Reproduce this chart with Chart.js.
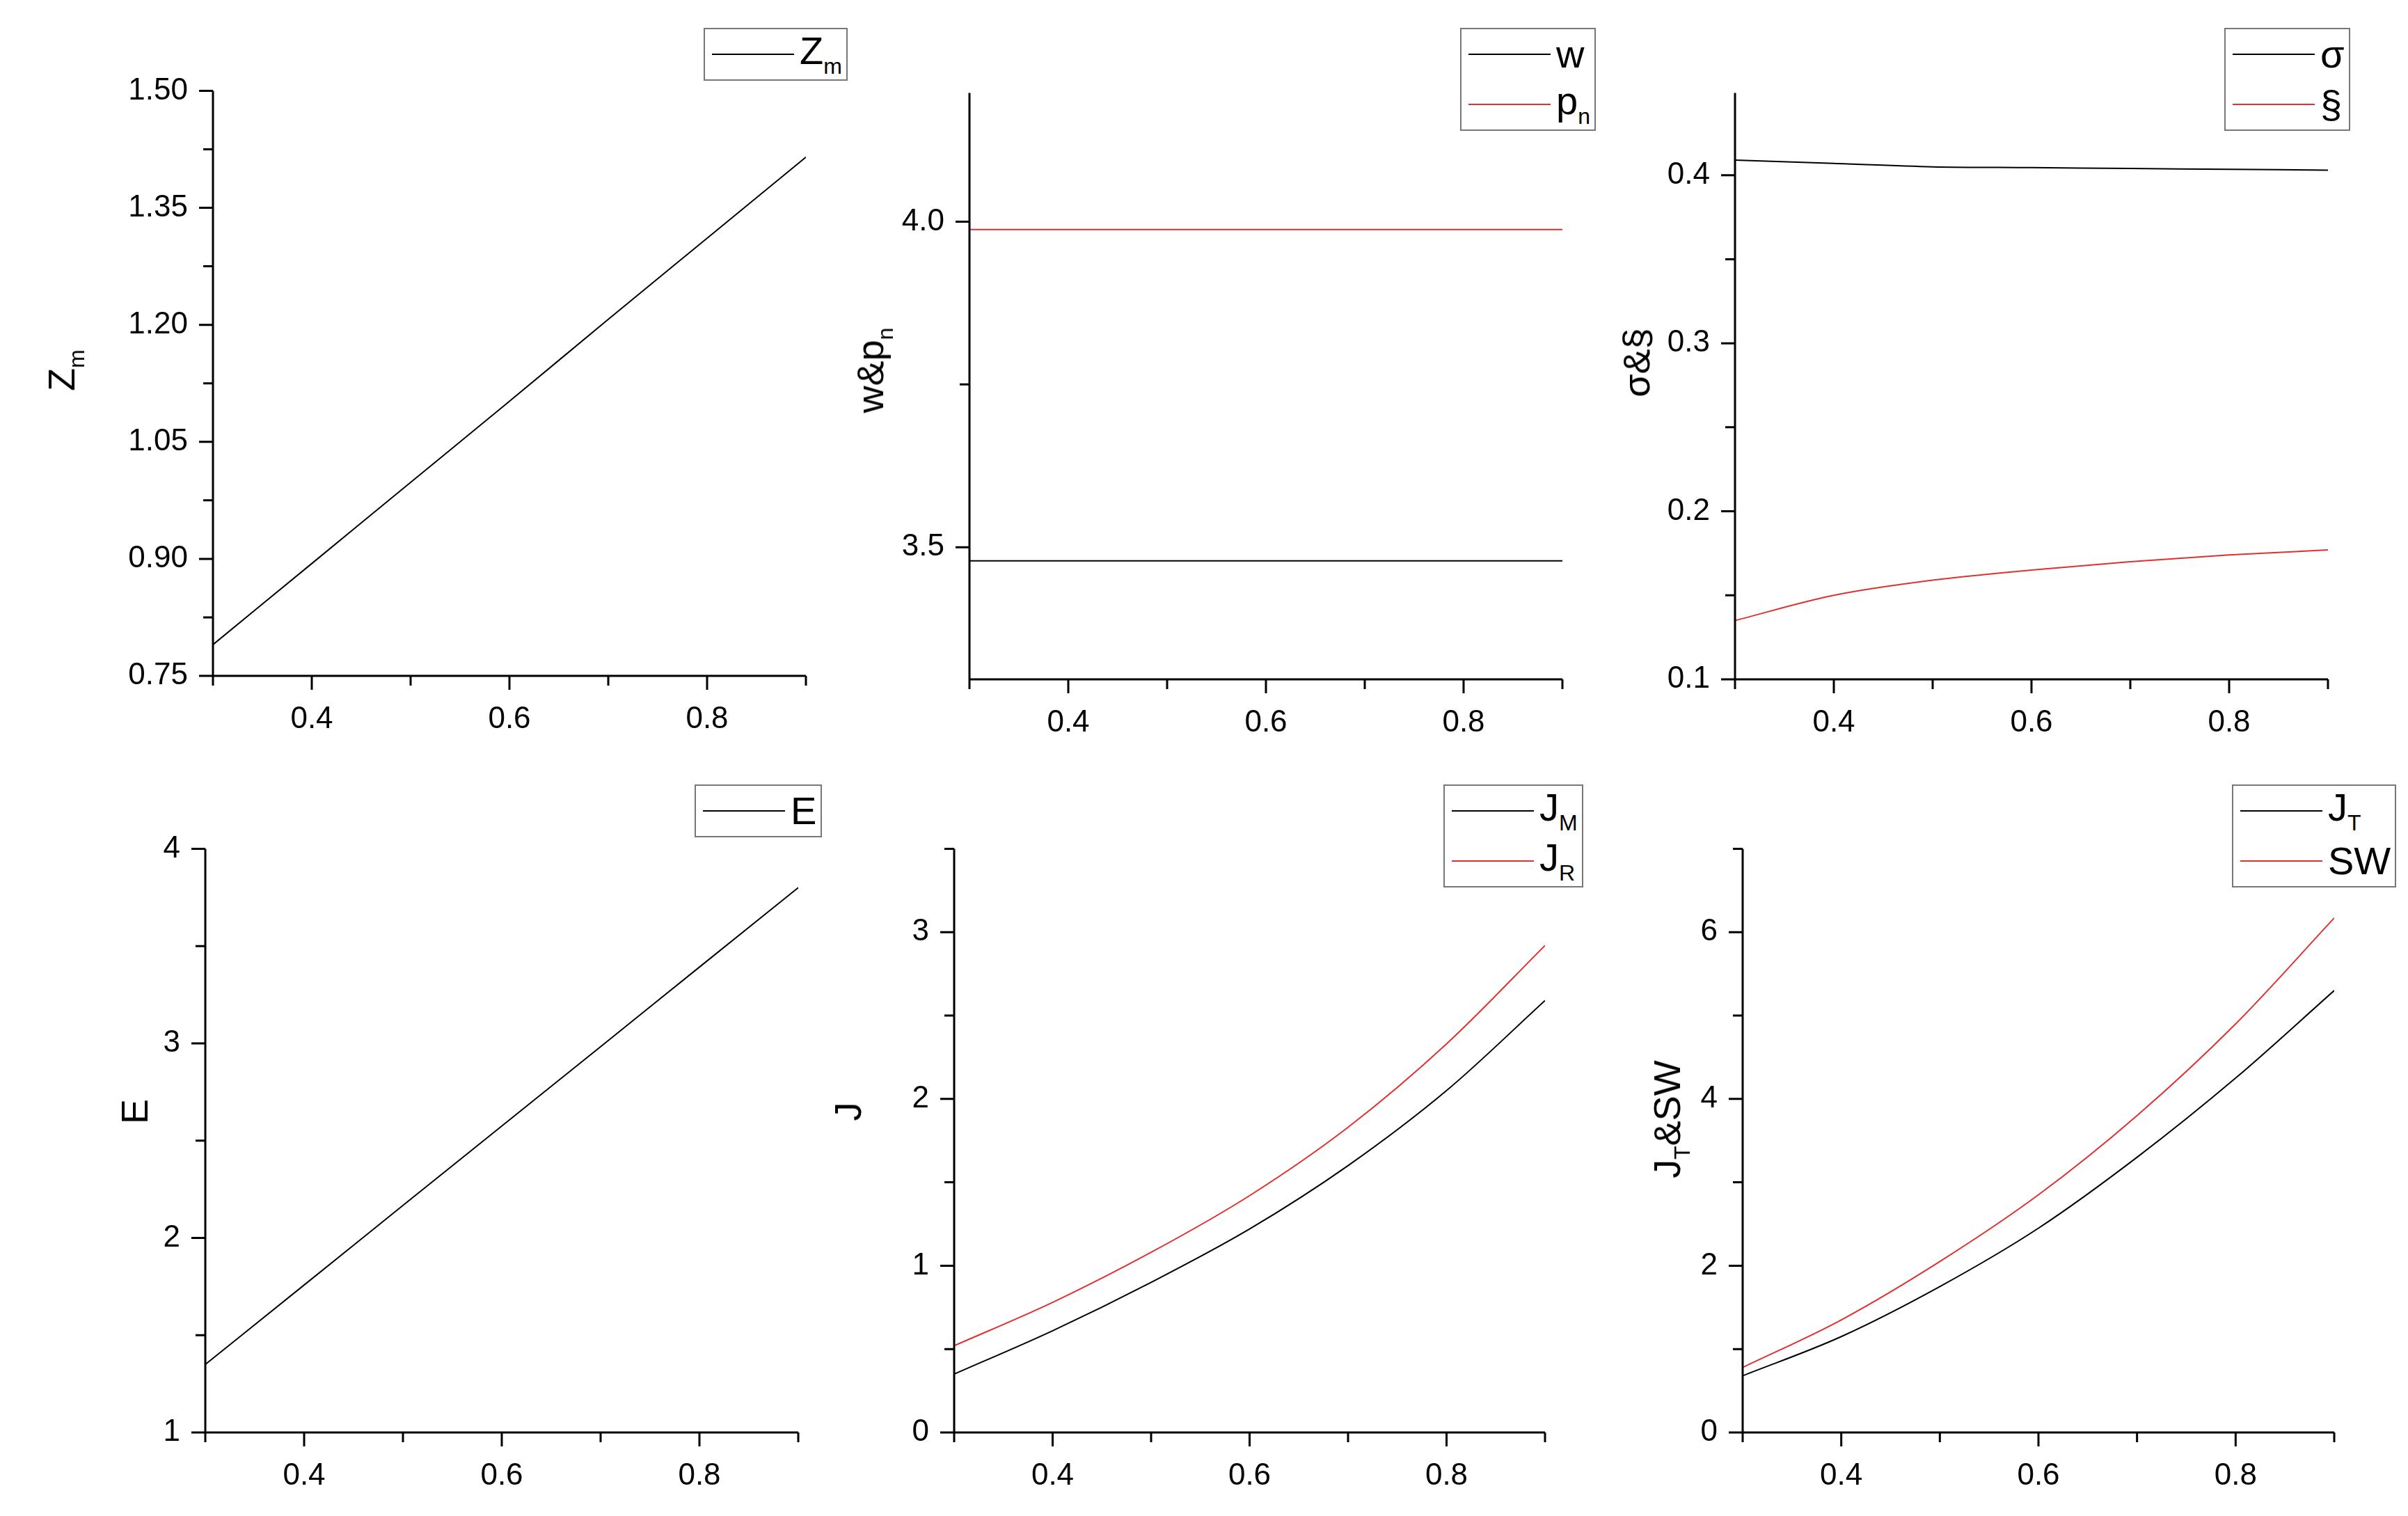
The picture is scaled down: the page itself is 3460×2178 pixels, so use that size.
<!DOCTYPE html>
<html><head><meta charset="utf-8">
<script src="https://cdn.jsdelivr.net/npm/chart.js@4"></script>
<style>
body{margin:0;background:#fff;width:3460px;height:2178px;position:relative;overflow:hidden;font-family:"Liberation Sans",Arial,sans-serif}
.c{position:absolute}
.lg{position:absolute;border:2px solid #777;background:#fff;font-size:56px;line-height:1}
.row{display:flex;align-items:center;height:72px;padding:0 6px 0 10px}
.ln{width:118px;height:2px;margin-right:8px}
.yt{position:absolute;font-size:54px;transform:translate(-50%,-50%) rotate(-90deg);white-space:nowrap}
sub{font-size:32px;vertical-align:-14px}
</style></head><body>
<script>
const xVals=[0.3,0.4,0.5,0.6,0.7,0.8,0.9];
const zm=[0.79,0.894,0.998,1.102,1.207,1.311,1.415];
const w=[3.479,3.479,3.479,3.479,3.479,3.479,3.479];
const pn=[3.988,3.988,3.988,3.988,3.988,3.988,3.988];
const sigma=[0.409,0.407,0.405,0.4045,0.404,0.4035,0.403];
const sect=[0.135,0.150,0.159,0.165,0.170,0.174,0.177];
const E=[1.35,1.758,2.167,2.575,2.983,3.392,3.8];
const JM=[0.35,0.61,0.90,1.22,1.60,2.05,2.59];
const JR=[0.52,0.78,1.08,1.42,1.83,2.33,2.92];
const JT=[0.68,1.15,1.75,2.45,3.30,4.25,5.30];
const SW=[0.78,1.35,2.05,2.85,3.80,4.90,6.17];
const xMajor=[0.4,0.6,0.8], xMinor=[0.3,0.5,0.7,0.9];

const panels=[
 {L:306,T:126,W:852,H:845,min:0.75,max:1.5,maj:[0.75,0.9,1.05,1.2,1.35,1.5],min2:[0.825,0.975,1.125,1.275,1.425],dec:2,
  sets:[[zm,'#000']],legend:[['Z<sub>m</sub>','#000']],lg:[1011,40],title:'Z<sub>m</sub>',tt:[93,532]},
 {L:1393,T:129,W:852,H:847,min:3.297,max:4.198,maj:[3.5,4.0],min2:[3.75],dec:1,
  sets:[[w,'#000'],[pn,'#e03030']],legend:[['w','#000'],['p<sub>n</sub>','#e03030']],lg:[2098,40],title:'w&amp;p<sub>n</sub>',tt:[1255,532]},
 {L:2493,T:129,W:852,H:847,min:0.1,max:0.449,maj:[0.1,0.2,0.3,0.4],min2:[0.15,0.25,0.35],dec:1,
  sets:[[sigma,'#000'],[sect,'#e03030']],legend:[['σ','#000'],['§','#e03030']],lg:[3196,40],title:'σ&amp;§',tt:[2351,521]},
 {L:295,T:1215,W:852,H:843,min:1,max:4,maj:[1,2,3,4],min2:[1.5,2.5,3.5],dec:0,
  sets:[[E,'#000']],legend:[['E','#000']],lg:[998,1127],title:'E',tt:[193,1597]},
 {L:1371,T:1215,W:849,H:843,min:0,max:3.5,maj:[0,1,2,3],min2:[0.5,1.5,2.5,3.5],dec:0,
  sets:[[JM,'#000'],[JR,'#e03030']],legend:[['J<sub>M</sub>','#000'],['J<sub>R</sub>','#e03030']],lg:[2074,1127],title:'J',tt:[1218,1597]},
 {L:2504,T:1215,W:850,H:843,min:0,max:7,maj:[0,2,4,6],min2:[1,3,5,7],dec:0,
  sets:[[JT,'#000'],[SW,'#e03030']],legend:[['J<sub>T</sub>','#000'],['SW','#e03030']],lg:[3207,1127],title:'J<sub>T</sub>&amp;SW',tt:[2400,1608]}
];
const AW=200, AH=120, PT=20, PR=40, OFF=30;
const tickPlugin={id:'tk',afterDraw(ch){
  const c=ch.ctx, x=ch.scales.x, y=ch.scales.y, o=ch.options.plugins.tk;
  c.save();c.strokeStyle='#000';c.lineWidth=3;c.beginPath();
  xMajor.forEach(v=>{const p=x.getPixelForValue(v);c.moveTo(p,y.bottom);c.lineTo(p,y.bottom+20);});
  xMinor.forEach(v=>{const p=x.getPixelForValue(v);c.moveTo(p,y.bottom);c.lineTo(p,y.bottom+14);});
  o.maj.forEach(v=>{const p=y.getPixelForValue(v);c.moveTo(x.left,p);c.lineTo(x.left-20,p);});
  o.min2.forEach(v=>{const p=y.getPixelForValue(v);c.moveTo(x.left,p);c.lineTo(x.left-14,p);});
  c.moveTo(x.left,y.top);c.lineTo(x.left,y.bottom);c.lineTo(x.right,y.bottom);
  c.stroke();c.restore();}};
panels.forEach(p=>{
  const cv=document.createElement('canvas');cv.className='c';
  const cw=p.W+AW+PR, chh=p.H+AH+PT+OFF;
  cv.style.width=cw+'px';cv.style.height=chh+'px';cv.style.left='0';cv.style.top='0';
  const d=document.createElement('div');d.style.cssText=`position:absolute;left:${p.L-AW}px;top:${p.T-PT-OFF}px;width:${cw}px;height:${chh}px`;
  d.appendChild(cv);document.body.appendChild(d);
  new Chart(cv,{type:'line',plugins:[tickPlugin],
   data:{datasets:p.sets.map(s=>({data:xVals.map((x,i)=>({x,y:s[0][i]})),borderColor:s[1],borderWidth:2,pointRadius:0,cubicInterpolationMode:'monotone',fill:false}))},
   options:{responsive:false,animation:false,devicePixelRatio:1,layout:{padding:{top:PT,right:PR,left:0,bottom:0}},
    plugins:{legend:{display:false},tooltip:{enabled:false},tk:{maj:p.maj,min2:p.min2}},
    scales:{
     x:{type:'linear',min:0.3,max:0.9,afterBuildTicks:a=>{a.ticks=xMajor.map(v=>({value:v}))},afterFit:a=>{a.height=AH},
      grid:{display:false},border:{display:false},ticks:{color:'#000',font:{size:44,family:'Liberation Sans'},padding:28,callback:v=>v.toFixed(1)}},
     y:{min:p.min,max:p.max,afterBuildTicks:a=>{a.ticks=p.maj.map(v=>({value:v}))},afterFit:a=>{a.width=AW},
      grid:{display:false},border:{display:false},ticks:{color:'#000',font:{size:44,family:'Liberation Sans'},padding:28,callback:v=>v.toFixed(p.dec)}}}}});
  const lg=document.createElement('div');lg.className='lg';lg.style.left=p.lg[0]+'px';lg.style.top=p.lg[1]+'px';
  lg.innerHTML=p.legend.map(l=>`<div class="row"><div class="ln" style="background:${l[1]}"></div><span>${l[0]}</span></div>`).join('');
  document.body.appendChild(lg);
  const t=document.createElement('div');t.className='yt';t.style.left=p.tt[0]+'px';t.style.top=p.tt[1]+'px';t.innerHTML=p.title;
  document.body.appendChild(t);
});
</script></body></html>
